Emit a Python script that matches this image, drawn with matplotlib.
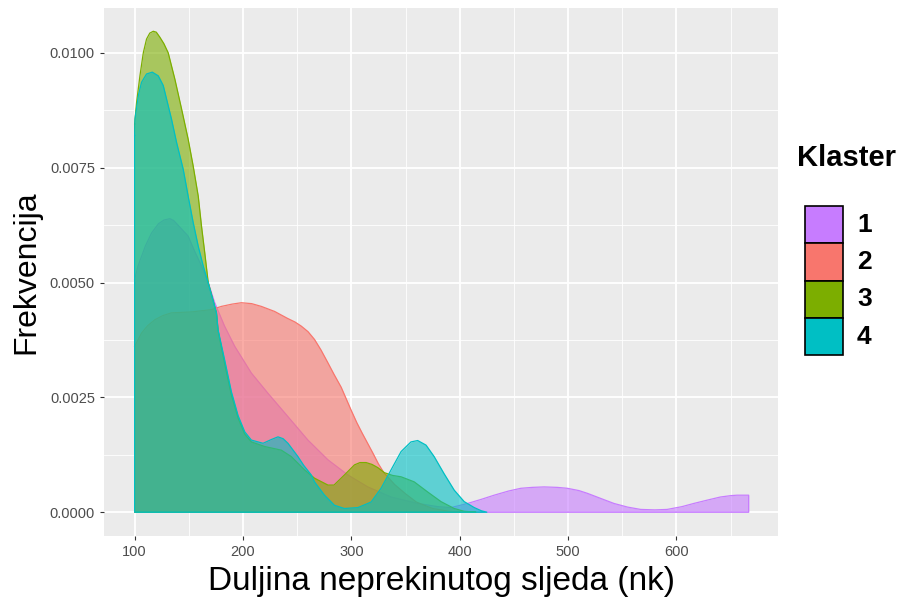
# density curves of run length per cluster

import numpy as np
import matplotlib.pyplot as plt
from matplotlib.patches import Rectangle

plt.rcParams['font.family'] = ['Liberation Sans', 'DejaVu Sans']

klasteri = ['1', '2', '3', '4']
boje = ['#C77CFF', '#F8766D', '#7CAE00', '#00BFC4']

# x = duljina (nk), y = gustoca u jedinicama 0.001
x1 = [100, 103, 106.4, 110, 115.7, 122, 127, 132.5, 136, 140, 149.4, 155, 161.7, 167.9, 173.9,
      183, 192.4, 207.7, 223, 241.5, 259.9, 278.4, 296.8, 315.2, 336.7, 361.2, 380, 391.9,
      407.3, 420, 431.8, 445, 456.4, 467, 477.8, 490, 499.3, 510, 517.8, 530, 542.3, 555,
      566.9, 580, 591.4, 605, 616, 628, 640.5, 650, 655.9, 666.6]
y1 = [5.07, 5.35, 5.57, 5.8, 6.08, 6.28, 6.36, 6.39, 6.35, 6.25, 6.01, 5.7, 5.36, 5.0, 4.56,
      4.05, 3.61, 3.03, 2.59, 2.08, 1.57, 1.14, 0.81, 0.55, 0.33, 0.19, 0.12, 0.10,
      0.19, 0.28, 0.37, 0.46, 0.52, 0.54, 0.55, 0.54, 0.52, 0.47, 0.41, 0.30, 0.19, 0.11,
      0.06, 0.05, 0.06, 0.12, 0.19, 0.26, 0.33, 0.36, 0.37, 0.37]

x2 = [100, 106.4, 112, 118.7, 126, 134, 152.5, 170.9, 180.1, 190, 198.5, 208, 216.9, 229.2,
      241, 248, 253.8, 260, 266, 272, 278.4, 284, 290.6, 299.8, 305, 310, 315, 320, 325, 330,
      340, 350, 360, 375, 390, 400]
y2 = [3.61, 3.90, 4.06, 4.19, 4.28, 4.34, 4.36, 4.41, 4.48, 4.53, 4.56, 4.54, 4.48, 4.37,
      4.22, 4.14, 4.05, 3.93, 3.76, 3.53, 3.25, 3.0, 2.72, 2.22, 1.95, 1.72, 1.5, 1.28, 1.05,
      0.86, 0.6, 0.4, 0.22, 0.08, 0.02, 0.0]

x3 = [100, 101.8, 104.9, 108, 111, 114, 117.2, 120, 123.3, 127, 131, 137.1, 143.3, 149.4, 154,
      158.7, 161.7, 164.7, 167.9, 175.5, 177, 183.2, 189.3, 195.5, 201.6, 207.7, 219.9, 235.4,
      244.6, 256.8, 266, 278.4, 284, 293.6, 302.9, 308, 313.6, 319, 324.4, 330.5, 338, 345.9,
      358, 370.4, 382.7, 394.9, 404, 415]
y3 = [8.45, 8.92, 9.5, 10.0, 10.3, 10.43, 10.47, 10.45, 10.34, 10.2, 10.0, 9.43, 8.78, 8.12,
      7.54, 6.88, 6.23, 5.65, 5.0, 4.34, 3.95, 3.22, 2.55, 2.05, 1.70, 1.53, 1.43, 1.35,
      1.21, 0.92, 0.74, 0.59, 0.59, 0.81, 1.03, 1.08, 1.08, 1.04, 0.97, 0.86, 0.80, 0.77,
      0.66, 0.44, 0.23, 0.08, 0.02, 0.0]

x4 = [100, 100.3, 103.4, 106.4, 111, 116.3, 121.8, 126.4, 134, 138.7, 144.8, 149.4, 154,
      158.7, 163.3, 167.9, 175.5, 177, 183.2, 189.3, 195.5, 201.6, 207.7, 218.5, 226, 232.3,
      237, 241.5, 250.7, 256, 263, 266, 275.2, 284.4, 293.6, 306, 318.2, 327.4, 336.6,
      345.9, 355, 361.2, 368.9, 376.4, 385.5, 394.9, 404.1, 413.4, 420, 425]
y4 = [8.2, 8.56, 9.07, 9.36, 9.54, 9.58, 9.5, 9.29, 8.56, 8.05, 7.47, 6.88, 6.31,
      5.79, 5.36, 4.99, 4.34, 3.97, 3.3, 2.62, 2.1, 1.75, 1.57, 1.50, 1.58, 1.64,
      1.60, 1.50, 1.21, 1.02, 0.81, 0.66, 0.37, 0.15, 0.08, 0.10, 0.22, 0.52, 0.92,
      1.32, 1.53, 1.56, 1.46, 1.21, 0.84, 0.48, 0.23, 0.10, 0.03, 0.0]

xs = [x1, x2, x3, x4]
ys = [y1, y2, y3, y4]

fig = plt.figure(figsize=(9.04, 6.03), dpi=100)
ax = fig.add_axes([0.115, 0.111, 0.746, 0.876])
ax.set_facecolor('#EBEBEB')

for x, y, c in zip(xs, ys, boje):
    x = np.array(x)
    y = np.array(y) * 1e-3
    ax.fill_between(x, 0, y, color=c, alpha=0.6, linewidth=0, zorder=2)
    # obrub poligona (gore, desno, dolje, lijevo)
    px = np.concatenate([x, [x[-1], x[0], x[0]]])
    py = np.concatenate([y, [0, 0, y[0]]])
    ax.plot(px, py, color=c, linewidth=0.9, zorder=2)

ax.set_xlim(71.7, 694)
ax.set_ylim(-0.00052, 0.01098)
ax.set_xticks([100, 200, 300, 400, 500, 600])
ax.set_xticks([150, 250, 350, 450, 550, 650], minor=True)
ax.set_yticks([0, 0.0025, 0.005, 0.0075, 0.01])
ax.set_yticks([0.00125, 0.00375, 0.00625, 0.00875], minor=True)
ax.set_yticklabels(['0.0000', '0.0025', '0.0050', '0.0075', '0.0100'])
ax.grid(which='major', color='white', linewidth=1.3, zorder=1)
ax.grid(which='minor', color='white', linewidth=0.6, zorder=1)
ax.set_axisbelow(True)
for s in ax.spines.values():
    s.set_visible(False)
ax.tick_params(which='major', length=3, width=0.8, color='#333333',
               labelsize=10.5, labelcolor='#4D4D4D')
ax.tick_params(which='minor', length=0)

ax.set_xlabel('Duljina neprekinutog sljeda (nk)', fontsize=24, labelpad=5)
ax.set_ylabel('Frekvencija', fontsize=23, labelpad=6)

# legenda
W, H = 904, 603
fig.text(797 / W, 1 - 158 / H, 'Klaster', fontsize=21, fontweight='bold', va='center')
for i, (k, c) in enumerate(zip(klasteri, boje)):
    top = 206 + i * 37.3
    fig.patches.append(Rectangle((805 / W, 1 - (top + 37.3) / H), 38 / W, 37.3 / H,
                                 facecolor=c, edgecolor='black', linewidth=1.2,
                                 transform=fig.transFigure))
    fig.text(857 / W, 1 - (top + 18.6) / H, k, fontsize=19, fontweight='bold', va='center')

plt.savefig('out.png', dpi=100)
